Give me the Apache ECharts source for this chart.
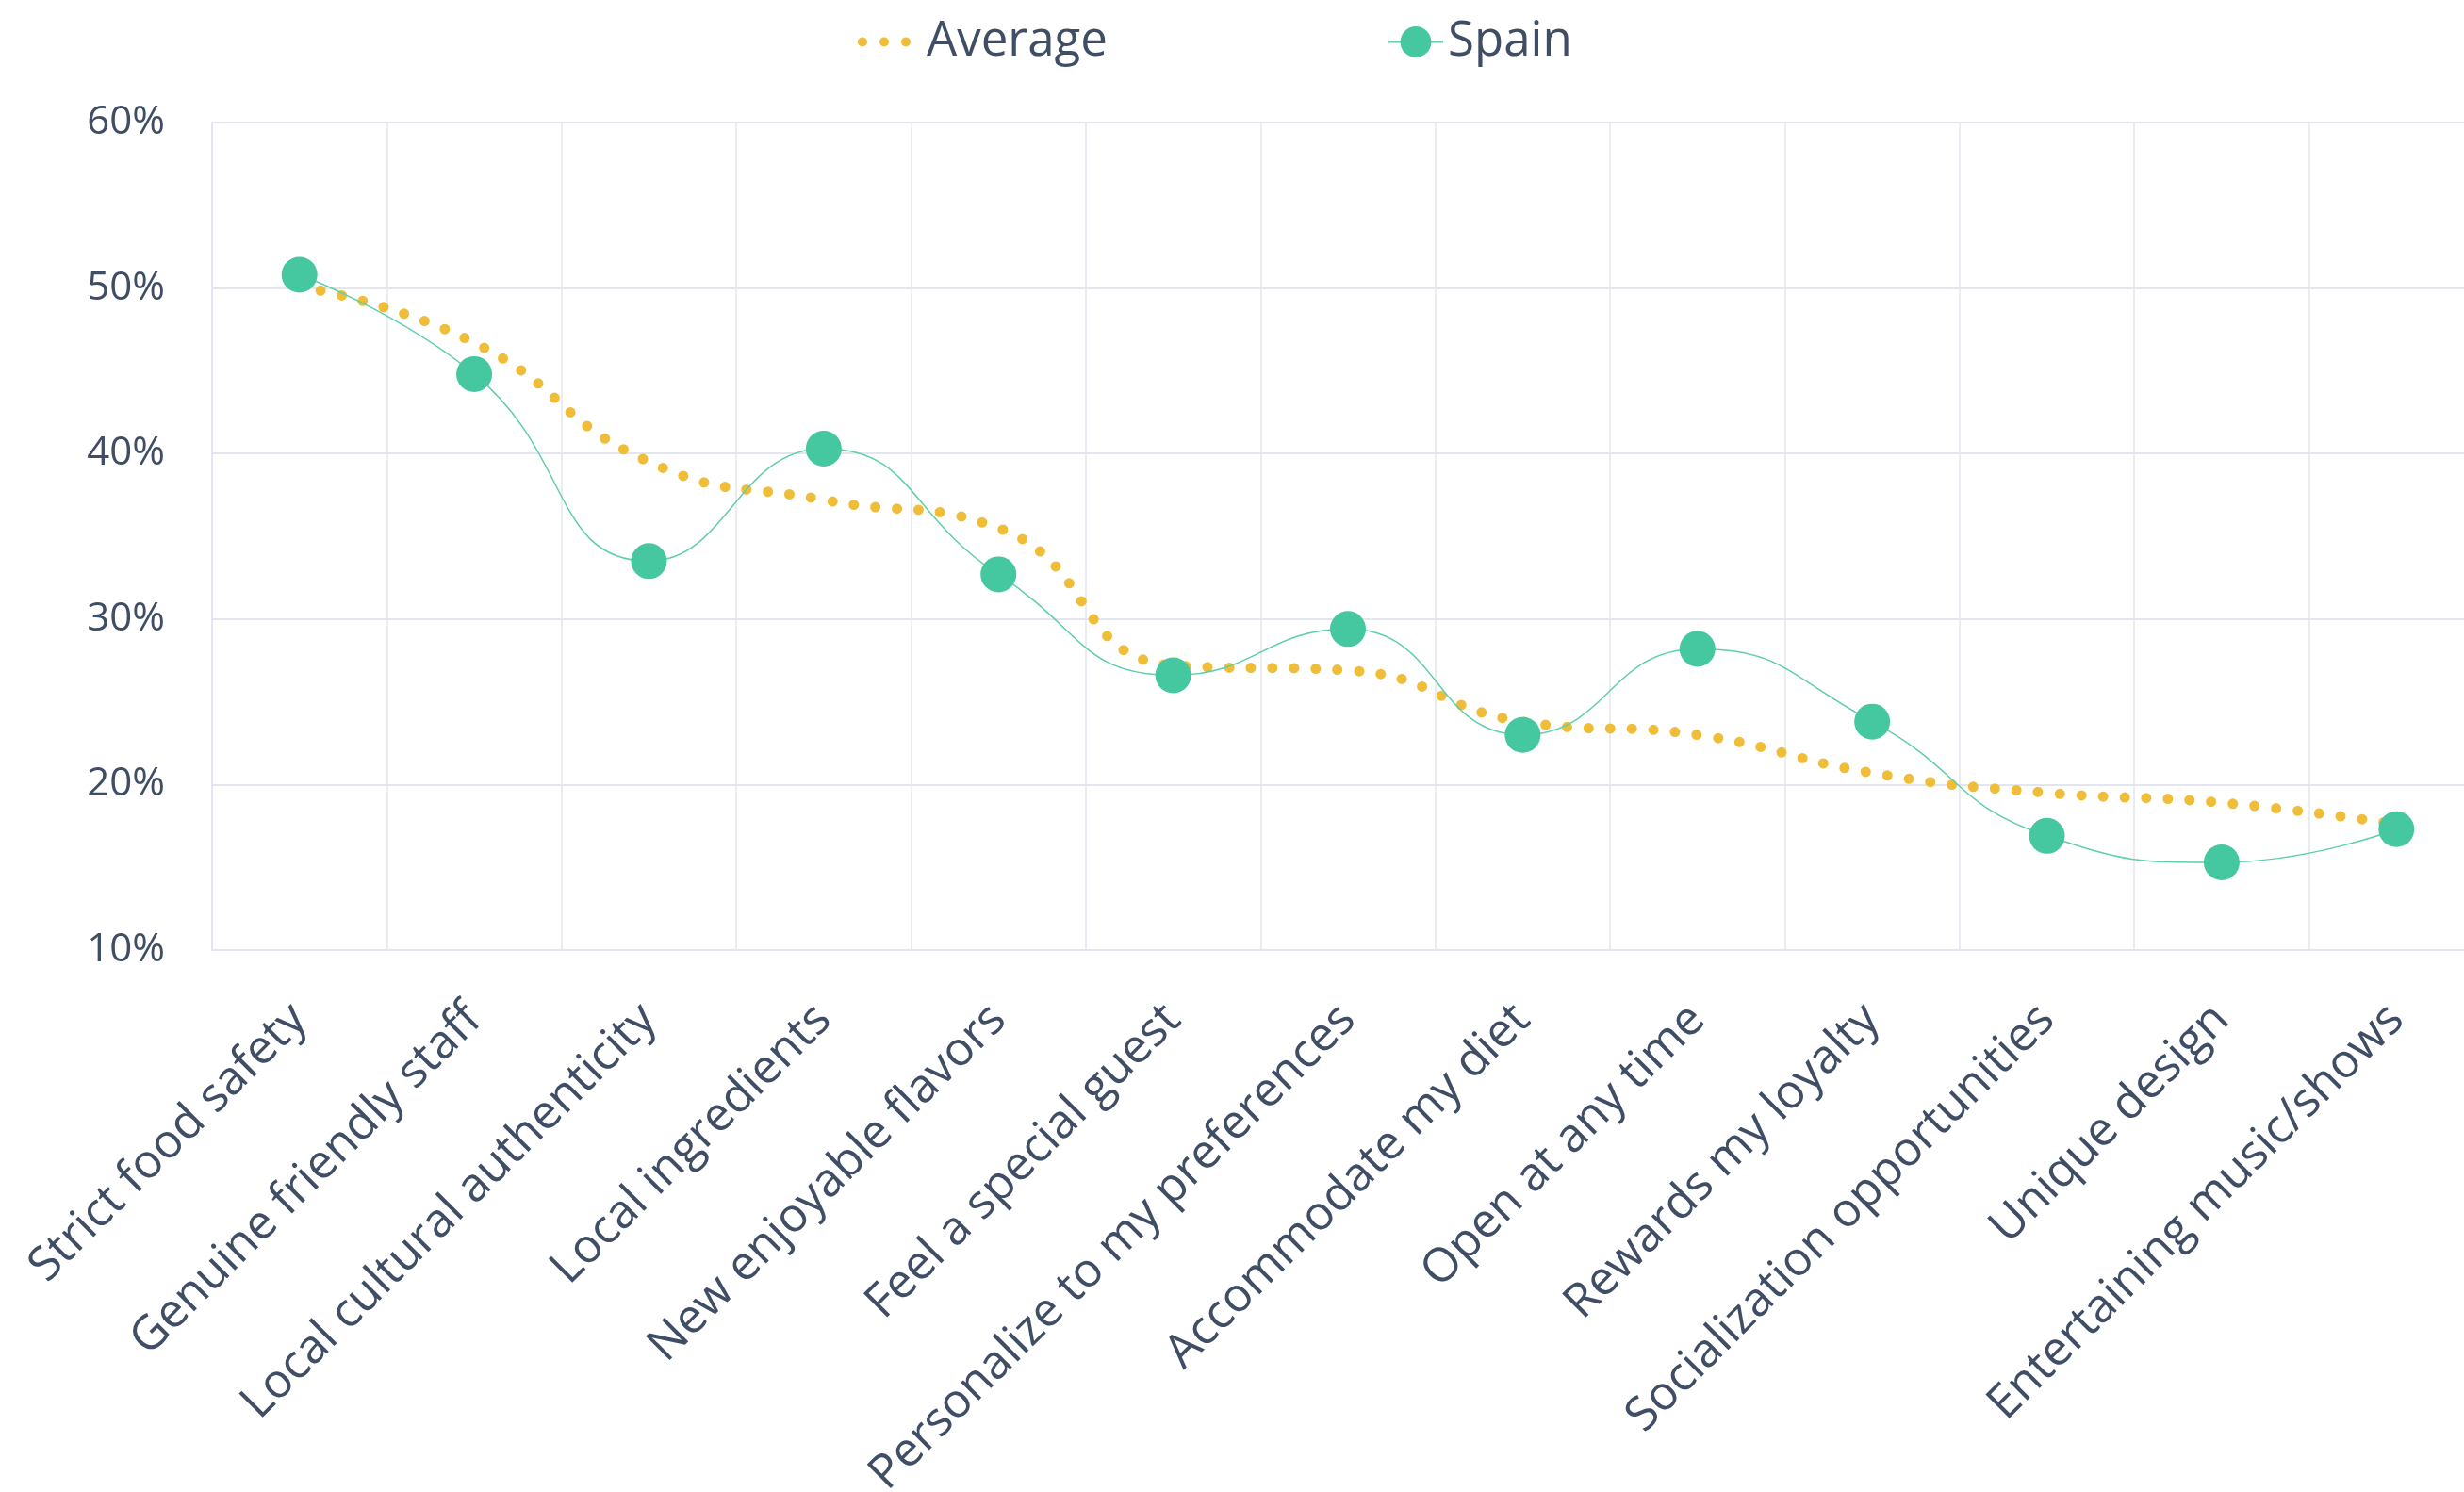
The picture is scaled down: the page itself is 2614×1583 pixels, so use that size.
<!DOCTYPE html>
<html>
<head>
<meta charset="utf-8">
<script src="https://cdn.jsdelivr.net/npm/echarts@6/dist/echarts.min.js"></script>
<style>
  html, body { margin: 0; padding: 0; background: #ffffff; }
  #chart { width: 2614px; height: 1583px; }
</style>
</head>
<body>
<div id="chart"></div>
<script>
// Restaurant attributes, in survey order
const categories = [
  'Strict food safety',
  'Genuine friendly staff',
  'Local cultural authenticity',
  'Local ingredients',
  'New enjoyable flavors',
  'Feel a special guest',
  'Personalize to my preferences',
  'Accommodate my diet',
  'Open at any time',
  'Rewards my loyalty',
  'Socialization opportunities',
  'Unique design',
  'Entertaining music/shows'
];

// Share of respondents (%)
const averageValues = [50.1, 46.7, 39.5, 37.2, 35.5, 27.2, 26.9, 23.8, 23.0, 20.7, 19.5, 18.9, 17.6];
const spainValues   = [50.8, 44.8, 33.5, 40.3, 32.7, 26.6, 29.4, 23.0, 28.2, 23.8, 16.9, 15.3, 17.3];

// Y axis range and step (%)
const yMin = 10;
const yMax = 60;
const yStep = 10;

const textColor = '#3f4d65';
const gridColor = '#e3e6ee';
const averageColor = '#efbd38';
const spainColor = '#45c79f';
const fontFamily = '"Open Sans", "Noto Sans", sans-serif';

// Three round dots, used as the legend key of the dotted series
const threeDots =
  'path://M0,5a5,5 0 1,0 10,0a5,5 0 1,0 -10,0z' +
  'M23,5a5,5 0 1,0 10,0a5,5 0 1,0 -10,0z' +
  'M46,5a5,5 0 1,0 10,0a5,5 0 1,0 -10,0z';

const chart = echarts.init(document.getElementById('chart'));

chart.setOption({
  backgroundColor: '#ffffff',
  animation: false,
  textStyle: { fontFamily: fontFamily },
  legend: [
    {
      left: 905,
      top: 14,
      itemGap: 0,
      itemWidth: 56,
      itemHeight: 10,
      textStyle: { color: textColor, fontSize: 51, fontFamily: fontFamily, padding: [0, 0, 0, 12] },
      data: [{ name: 'Average', icon: threeDots }]
    },
    {
      left: 1467,
      top: 14,
      itemGap: 0,
      itemWidth: 58,
      itemHeight: 41,
      textStyle: { color: textColor, fontSize: 51, fontFamily: fontFamily },
      data: ['Spain']
    }
  ],
  // The plot runs a little past the right edge of the canvas
  grid: {
    left: 225,
    width: 2410,
    top: 130,
    bottom: 575,
    containLabel: false,
    outerBoundsMode: 'none'
  },
  xAxis: {
    type: 'category',
    data: categories,
    boundaryGap: true,
    axisLine: { show: true, lineStyle: { color: gridColor, width: 2 } },
    axisTick: { show: false },
    splitLine: { show: true, lineStyle: { color: gridColor, width: 1.5 } },
    axisLabel: {
      rotate: 45,
      interval: 0,
      margin: 66,
      color: textColor,
      fontSize: 50,
      fontFamily: fontFamily
    }
  },
  yAxis: {
    type: 'value',
    min: yMin,
    max: yMax,
    interval: yStep,
    axisLine: { show: true, lineStyle: { color: gridColor, width: 2 } },
    axisTick: { show: false },
    splitLine: { show: true, lineStyle: { color: gridColor, width: 2 } },
    axisLabel: {
      formatter: '{value}%',
      margin: 50,
      color: textColor,
      fontSize: 42,
      fontFamily: fontFamily
    }
  },
  series: [
    {
      name: 'Average',
      type: 'line',
      data: averageValues,
      smooth: 0.5,
      showSymbol: false,
      symbol: 'none',
      itemStyle: { color: averageColor },
      lineStyle: {
        color: averageColor,
        width: 11,
        type: [0, 23],
        cap: 'round'
      },
      z: 2
    },
    {
      name: 'Spain',
      type: 'line',
      data: spainValues,
      smooth: 0.5,
      symbol: 'circle',
      symbolSize: 38,
      itemStyle: { color: spainColor },
      lineStyle: { color: '#5fcfab', width: 1.5 },
      z: 3
    }
  ]
});
</script>
</body>
</html>
